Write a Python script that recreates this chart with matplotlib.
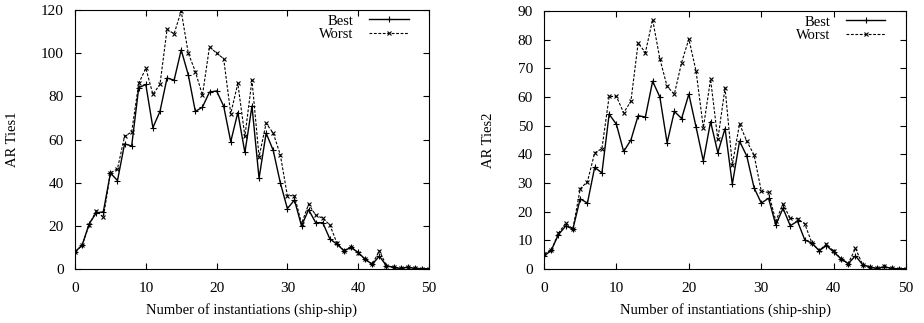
import numpy as np
import matplotlib.pyplot as plt

plt.rcParams['font.family'] = ['Liberation Serif', 'DejaVu Serif']

x = np.arange(51)

# AR Ties1
best1 = [8, 11, 21, 26, 26.5, 44.5, 41, 58, 57, 84, 85.5, 65.5, 73, 88.5, 87.5, 101.5,
         90, 73, 75, 82, 82.5, 75.5, 59, 72.5, 54, 75.5, 42, 63, 55, 40, 28,
         32, 20, 27.5, 21.5, 21.5, 14, 11.5, 8.5, 10, 7.7, 4.5, 2.2, 6, 1.5, 0.8,
         0.3, 0.9, 0.3, 0.2, 0.1]
worst1 = [8, 11, 20.5, 27, 24, 44.5, 46.5, 61.5, 63.5, 86, 93, 81, 85.5, 111, 109, 119.5,
          100, 91.5, 80.5, 103, 100, 97.5, 72, 86, 61.5, 87.5, 52, 67.5, 63, 53, 34,
          34, 21, 30, 25, 23.5, 20.5, 12, 8.5, 10.2, 7.5, 4.5, 2.2, 8.5, 1.5, 0.8,
          0.3, 0.9, 0.3, 0.2, 0.1]

# AR Ties2
best2 = [4.5, 6.5, 12, 15, 14, 24.5, 23, 35.5, 33.5, 54, 50.5, 41, 45, 53.5, 53, 65.5,
         60, 44, 55, 52.5, 61, 49.5, 37.7, 51.4, 40.6, 49, 29.6, 44.6, 39.4, 28.4, 23,
         24.7, 15.4, 21.2, 15.1, 16.7, 10.2, 9, 6.4, 8.2, 5.9, 3.6, 1.9, 4.6, 1.5, 0.7,
         0.2, 0.8, 0.2, 0.1, 0.1]
worst2 = [5.3, 6.5, 12.5, 16, 14, 28, 30.5, 40.5, 42, 60.2, 60.2, 54.5, 58.5, 78.8, 75.5, 87,
          73.3, 63.7, 61, 72, 80.2, 69, 49.3, 66.2, 45.2, 63.2, 36.3, 50.6, 44.6, 39.8, 27.2,
          26.7, 16.8, 22.6, 17.7, 17.5, 15.8, 9, 6.5, 8.7, 6.2, 3.6, 1.9, 7.2, 1.5, 0.7,
          0.2, 0.9, 0.2, 0.1, 0.1]

panels = [
    (best1, worst1, "AR Ties1", 120, 20),
    (best2, worst2, "AR Ties2", 90, 10),
]
rects = [[0.0812, 0.167, 0.383, 0.802], [0.5887, 0.167, 0.392, 0.799]]

fig = plt.figure(figsize=(9.24, 3.23), dpi=100)

for rect, (b, w, ylab, ymax, ystep) in zip(rects, panels):
    ax = fig.add_axes(rect)
    ax.plot(x, b, color="black", linewidth=1.0, marker="+", markersize=4,
            markeredgewidth=0.8, label="Best")
    ax.plot(x, w, color="black", linewidth=0.8, linestyle=(0, (2.5, 1.5)), marker="x",
            markersize=3.5, markeredgewidth=0.8, label="Worst")
    ax.set_xlim(0, 50)
    ax.set_ylim(0, ymax)
    ax.set_xticks(np.arange(0, 51, 10))
    ax.set_yticks(np.arange(0, ymax + 1, ystep))
    ax.tick_params(direction="in", top=True, right=True, labelsize=11, length=4)
    ax.tick_params(axis="y", pad=8)
    ax.tick_params(axis="x", pad=9)
    ax.set_xlabel("Number of instantiations (ship-ship)", fontsize=10.5, labelpad=6)
    ax.set_ylabel(ylab, fontsize=10.5, labelpad=16)
    ax.legend(loc="upper right", frameon=False, markerfirst=False, fontsize=10.5,
              handlelength=2.7, borderaxespad=0.2, borderpad=0.1, labelspacing=0.0,
              handletextpad=1.1, bbox_to_anchor=(0.955, 1.0))

plt.savefig("out.png", dpi=100)
